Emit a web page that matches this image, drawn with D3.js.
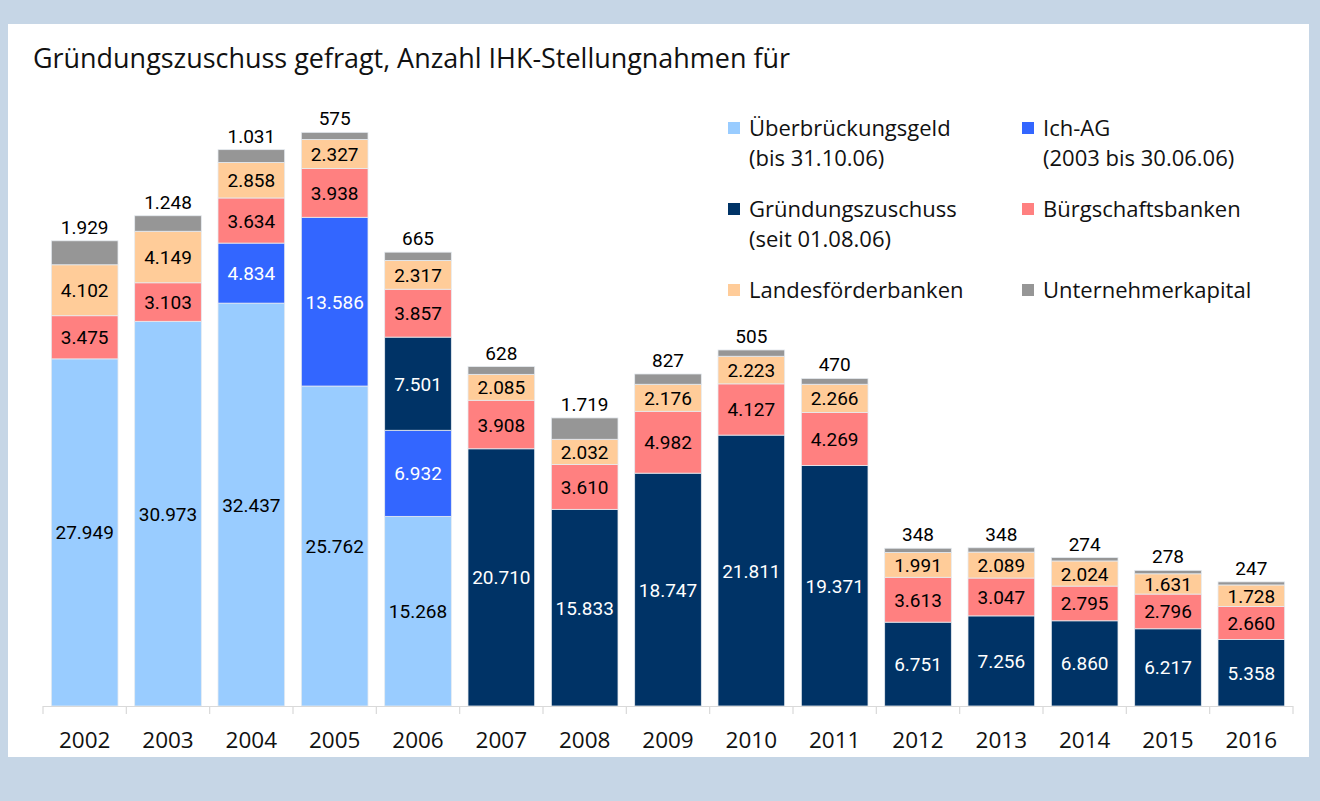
<!DOCTYPE html>
<html>
<head>
<meta charset="utf-8">
<script src="https://cdn.jsdelivr.net/npm/d3@7"></script>
<style>
  html, body { margin: 0; padding: 0; background: #c6d6e6; }
  svg { display: block; }
</style>
</head>
<body>
<svg id="chart" width="1320" height="801"></svg>
<script>
const years = ["2002","2003","2004","2005","2006","2007","2008","2009","2010","2011","2012","2013","2014","2015","2016"];
const ueberbrueckungsgeld = [27949, 30973, 32437, 25762, 15268, 0, 0, 0, 0, 0, 0, 0, 0, 0, 0];
const ichAG = [0, 0, 4834, 13586, 6932, 0, 0, 0, 0, 0, 0, 0, 0, 0, 0];
const gruendungszuschuss = [0, 0, 0, 0, 7501, 20710, 15833, 18747, 21811, 19371, 6751, 7256, 6860, 6217, 5358];
const buergschaftsbanken = [3475, 3103, 3634, 3938, 3857, 3908, 3610, 4982, 4127, 4269, 3613, 3047, 2795, 2796, 2660];
const landesfoerderbanken = [4102, 4149, 2858, 2327, 2317, 2085, 2032, 2176, 2223, 2266, 1991, 2089, 2024, 1631, 1728];
const unternehmerkapital = [1929, 1248, 1031, 575, 665, 628, 1719, 827, 505, 470, 348, 348, 274, 278, 247];

const seriesDefs = [
  { key: "ueb", name: ["Überbrückungsgeld", "(bis 31.10.06)"], values: ueberbrueckungsgeld, color: "#99ccff", text: "#000" },
  { key: "ich", name: ["Ich-AG", "(2003 bis 30.06.06)"], values: ichAG, color: "#3366ff", text: "#fff" },
  { key: "gz",  name: ["Gründungszuschuss", "(seit 01.08.06)"], values: gruendungszuschuss, color: "#003366", text: "#fff" },
  { key: "bb",  name: ["Bürgschaftsbanken"], values: buergschaftsbanken, color: "#ff8080", text: "#000" },
  { key: "lf",  name: ["Landesförderbanken"], values: landesfoerderbanken, color: "#ffcc99", text: "#000" },
  { key: "uk",  name: ["Unternehmerkapital"], values: unternehmerkapital, color: "#969696", text: "#000" }
];

const table = years.map((y, i) => {
  const row = { year: y };
  seriesDefs.forEach(s => row[s.key] = s.values[i]);
  return row;
});

const svg = d3.select("#chart");
svg.append("rect").attr("x", 8).attr("y", 24).attr("width", 1301).attr("height", 733).attr("fill", "#fff");

svg.append("text")
  .attr("x", 33).attr("y", 68)
  .attr("font-family", "'Open Sans', sans-serif")
  .attr("font-size", 27)
  .attr("textLength", 757)
  .attr("lengthAdjust", "spacingAndGlyphs")
  .attr("fill", "#111")
  .text("Gründungszuschuss gefragt, Anzahl IHK-Stellungnahmen für");

const x = d3.scaleBand().domain(years).range([43, 1293]).paddingInner(0.2).paddingOuter(0.1);
const y = d3.scaleLinear().domain([0, 50000]).range([706, 85]);

const stack = d3.stack().keys(seriesDefs.map(s => s.key));
const stacked = stack(table);

const g = svg.append("g");
stacked.forEach((layer, li) => {
  const def = seriesDefs[li];
  g.append("g").selectAll("rect").data(layer).join("rect")
    .attr("x", d => x(d.data.year))
    .attr("width", x.bandwidth())
    .attr("y", d => y(d[1]))
    .attr("height", d => Math.max(0, y(d[0]) - y(d[1])))
    .attr("fill", def.color)
    .attr("stroke", "#e6ebf0")
    .attr("stroke-width", 0.8)
    .attr("display", d => d[1] - d[0] > 0 ? null : "none");
});

const fmt = v => d3.format(",")(v).replace(/,/g, ".");

stacked.forEach((layer, li) => {
  const def = seriesDefs[li];
  if (def.key === "uk") return;
  g.append("g").selectAll("text").data(layer.filter(d => d[1] - d[0] > 0)).join("text")
    .attr("x", d => x(d.data.year) + x.bandwidth() / 2)
    .attr("y", d => (y(d[0]) + y(d[1])) / 2 + 7)
    .attr("text-anchor", "middle")
    .attr("font-family", "Roboto, sans-serif")
    .attr("font-size", 19)
    .attr("fill", def.text)
    .text(d => fmt(d[1] - d[0]));
});
const topLayer = stacked[stacked.length - 1];
g.append("g").selectAll("text").data(topLayer).join("text")
  .attr("x", d => x(d.data.year) + x.bandwidth() / 2)
  .attr("y", d => y(d[1]) - 7)
  .attr("text-anchor", "middle")
  .attr("font-family", "Roboto, sans-serif")
  .attr("font-size", 19)
  .attr("fill", "#000")
  .text(d => fmt(d[1] - d[0]));

const axisG = svg.append("g");
axisG.append("line").attr("x1", 43).attr("x2", 1293).attr("y1", 706.5).attr("y2", 706.5)
  .attr("stroke", "#d9d9d9").attr("stroke-width", 1.2);
const step = x.step();
const boundaries = d3.range(years.length + 1).map(i => x(years[0]) - x.paddingOuter() * step + i * step);
axisG.selectAll("line.tick").data(boundaries).join("line").attr("class", "tick")
  .attr("x1", d => d).attr("x2", d => d).attr("y1", 706).attr("y2", 714)
  .attr("stroke", "#d9d9d9").attr("stroke-width", 1.2);
axisG.selectAll("text").data(years).join("text")
  .attr("x", d => x(d) + x.bandwidth() / 2)
  .attr("y", 748)
  .attr("text-anchor", "middle")
  .attr("font-family", "'Open Sans', sans-serif")
  .attr("font-size", 22.5)
  .attr("fill", "#111")
  .text(d => d);

const legendPos = [
  { x: 728, y: 128 }, { x: 1022, y: 128 },
  { x: 728, y: 209 }, { x: 1022, y: 209 },
  { x: 728, y: 290 }, { x: 1022, y: 290 }
];
const leg = svg.append("g");
seriesDefs.forEach((s, i) => {
  const p = legendPos[i];
  leg.append("rect").attr("x", p.x).attr("y", p.y - 6).attr("width", 12).attr("height", 12).attr("fill", s.color);
  s.name.forEach((line, j) => {
    leg.append("text")
      .attr("x", p.x + 21).attr("y", p.y + 8 + j * 30)
      .attr("font-family", "'Open Sans', sans-serif")
      .attr("font-size", 22)
      .attr("fill", "#111")
      .text(line);
  });
});
</script>
</body>
</html>
